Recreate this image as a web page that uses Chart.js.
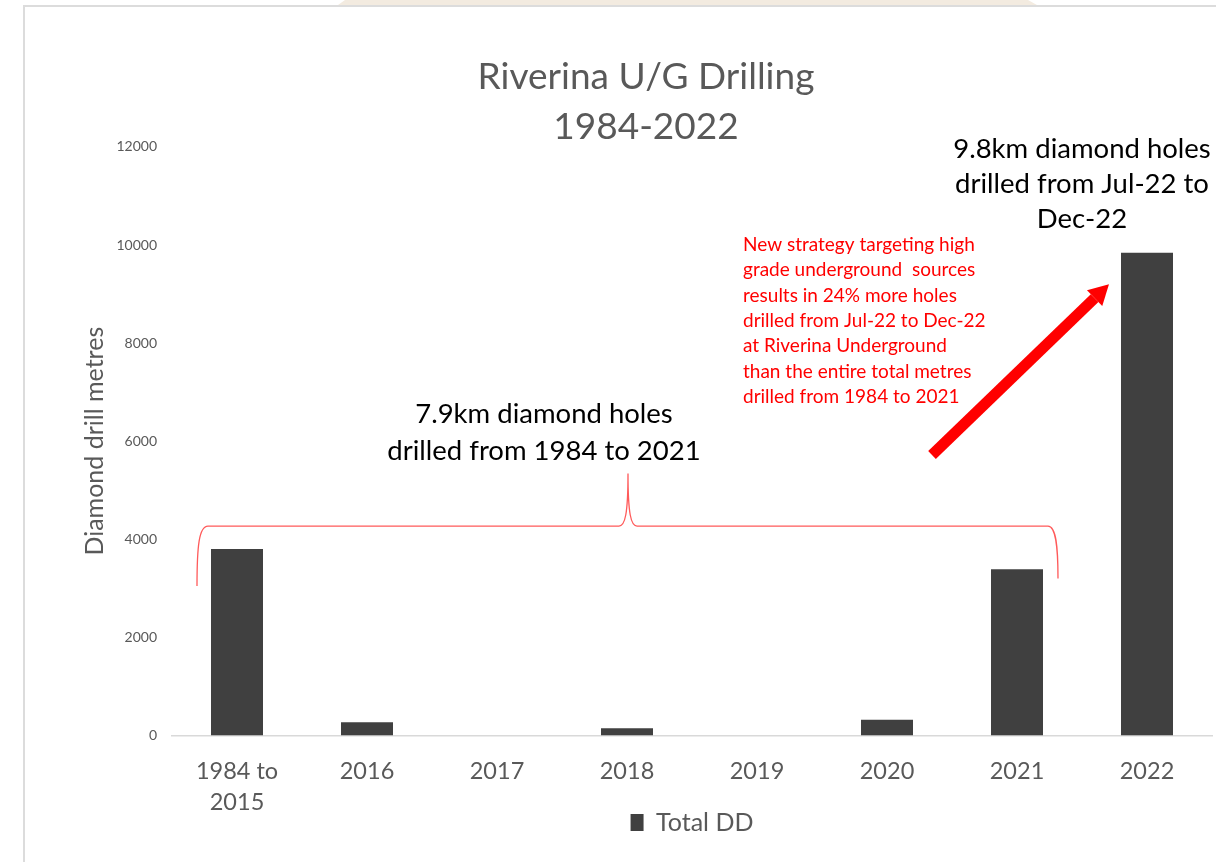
<!DOCTYPE html>
<html>
<head>
<meta charset="utf-8">
<script src="https://cdn.jsdelivr.net/npm/chart.js@4.4.1/dist/chart.umd.min.js"></script>
<style>
  body { margin: 0; background: #fff; }
  #wrap { position: relative; width: 1216px; height: 862px; overflow: hidden; }
  #frame { position: absolute; left: 23px; top: 5px; right: 0; bottom: 0;
           border-top: 2px solid #dcdcdc; border-left: 2px solid #dcdcdc; }
  #tab { position: absolute; left: 338px; top: 0; width: 699px; height: 5px; background: #f3ebe0;
         clip-path: polygon(7px 0, 690px 0, 100% 100%, 0 100%); }
  canvas { position: absolute; left: 0; top: 0; }
</style>
</head>
<body>
<div id="wrap">
  <div id="tab"></div>
  <div id="frame"></div>
  <canvas id="myChart" width="1216" height="862"></canvas>
</div>
<script>
// data ---------------------------------------------
const categories = [["1984 to", "2015"], "2016", "2017", "2018", "2019", "2020", "2021", "2022"];
const totalDD = [3800, 270, 0, 150, 0, 320, 3390, 9840];
const seriesName = "Total DD";
const yMin = 0;
const yMax = 12000;
const yStep = 2000;

// notes on the chart
const titleLines = ["Riverina U/G Drilling", "1984-2022"];
const braceNote = ["7.9km diamond holes", "drilled from 1984 to 2021"];
const topNote = ["9.8km diamond holes", "drilled from Jul-22 to", "Dec-22"];
const redNote = [
  "New strategy targeting high",
  "grade underground  sources",
  "results in 24% more holes",
  "drilled from Jul-22 to Dec-22",
  "at Riverina Underground",
  "than the entire total metres",
  "drilled from 1984 to 2021",
];

const FONT = "Lato, 'Open Sans', sans-serif";
const GREY = "#595959";

// annotations plugin ---------------------------------
const notesPlugin = {
  id: "notes",
  afterDraw(chart) {
    const ctx = chart.ctx;
    const x = chart.scales.x;
    const y = chart.scales.y;
    ctx.save();

    // brace over 1984..2021
    const xL = x.getPixelForValue(0) - 40;
    const xR = x.getPixelForValue(6) + 41;
    const xM = x.getPixelForValue(3) + 1;
    const yEndL = y.getPixelForValue(3050);
    const yEndR = y.getPixelForValue(3200);
    const yBar = y.getPixelForValue(4270);
    const yPeak = y.getPixelForValue(5340);
    ctx.strokeStyle = "#ff5a5a";
    ctx.lineWidth = 1.3;
    ctx.beginPath();
    ctx.moveTo(xL, yEndL);
    ctx.bezierCurveTo(xL, yBar + 20, xL + 2, yBar, xL + 11, yBar);
    ctx.lineTo(xM - 9, yBar);
    ctx.bezierCurveTo(xM - 3, yBar, xM, yBar - 12, xM, yPeak);
    ctx.bezierCurveTo(xM, yBar - 12, xM + 3, yBar, xM + 9, yBar);
    ctx.lineTo(xR - 10, yBar);
    ctx.bezierCurveTo(xR - 2, yBar, xR, yBar + 20, xR, yEndR);
    ctx.stroke();

    // red arrow towards 2022
    const tx = x.getPixelForValue(6) - 85, ty = y.getPixelForValue(5720);
    const hx = x.getPixelForValue(7) - 38, hy = y.getPixelForValue(9200);
    const ang = Math.atan2(hy - ty, hx - tx);
    const headLen = 20, headW = 11;
    const bx = hx - headLen * Math.cos(ang), by = hy - headLen * Math.sin(ang);
    ctx.strokeStyle = "#ff0000";
    ctx.fillStyle = "#ff0000";
    ctx.lineWidth = 11;
    ctx.beginPath();
    ctx.moveTo(tx, ty);
    ctx.lineTo(bx, by);
    ctx.stroke();
    ctx.beginPath();
    ctx.moveTo(hx, hy);
    ctx.lineTo(bx + headW * Math.sin(ang), by - headW * Math.cos(ang));
    ctx.lineTo(bx - headW * Math.sin(ang), by + headW * Math.cos(ang));
    ctx.closePath();
    ctx.fill();

    // texts
    ctx.textBaseline = "middle";
    ctx.textAlign = "center";
    ctx.fillStyle = "#000";
    ctx.font = "27.5px " + FONT;
    braceNote.forEach((t, i) => ctx.fillText(t, xM - 84, y.getPixelForValue(6550) + i * 37));
    topNote.forEach((t, i) => ctx.fillText(t, x.getPixelForValue(7) - 65, y.getPixelForValue(11950) + i * 35));

    ctx.textAlign = "left";
    ctx.fillStyle = "#ff0000";
    ctx.font = "19px " + FONT;
    redNote.forEach((t, i) => ctx.fillText(t, x.getPixelForValue(4) - 14, y.getPixelForValue(10000) + i * 25.3));
    ctx.restore();
  },
};

// chart ----------------------------------------------
const ctx = document.getElementById("myChart").getContext("2d");
const myChart = new Chart(ctx, {
  type: "bar",
  data: {
    labels: categories,
    datasets: [
      {
        label: seriesName,
        data: totalDD,
        backgroundColor: "#404040",
        categoryPercentage: 0.8,
        barPercentage: 0.5,
      },
    ],
  },
  options: {
    responsive: false,
    animation: false,
    devicePixelRatio: 1,
    layout: { padding: { left: 80, right: 4, top: 20, bottom: 17 } },
    plugins: {
      tooltip: { enabled: false },
      title: {
        display: true,
        text: titleLines,
        color: GREY,
        font: { family: FONT, size: 37, weight: "normal", lineHeight: 1.35 },
        padding: { top: 32, bottom: -5 },
      },
      legend: {
        position: "bottom",
        fullSize: false,
        labels: {
          boxWidth: 13,
          boxHeight: 17,
          color: GREY,
          font: { family: FONT, size: 25 },
          padding: 0,
        },
      },
    },
    scales: {
      x: {
        grid: { display: false, drawTicks: false },
        border: { display: true, color: "#d9d9d9", width: 1.5 },
        ticks: {
          color: GREY,
          font: { family: FONT, size: 23.5, lineHeight: 1.32 },
          padding: 20,
          maxRotation: 0,
          autoSkip: false,
        },
        afterFit(scale) {
          scale.height = 74.5;
        },
      },
      y: {
        min: yMin,
        max: yMax,
        grid: { display: false, drawTicks: false },
        border: { display: false },
        ticks: {
          stepSize: yStep,
          color: GREY,
          font: { family: FONT, size: 14 },
          padding: 15,
          callback: (v) => String(v),
        },
        title: {
          display: true,
          text: "Diamond drill metres",
          color: GREY,
          font: { family: FONT, size: 25 },
          padding: { top: 0, bottom: 0 },
        },
        afterFit(scale) {
          scale.width = 92;
        },
      },
    },
  },
  plugins: [notesPlugin],
});
</script>
</body>
</html>
